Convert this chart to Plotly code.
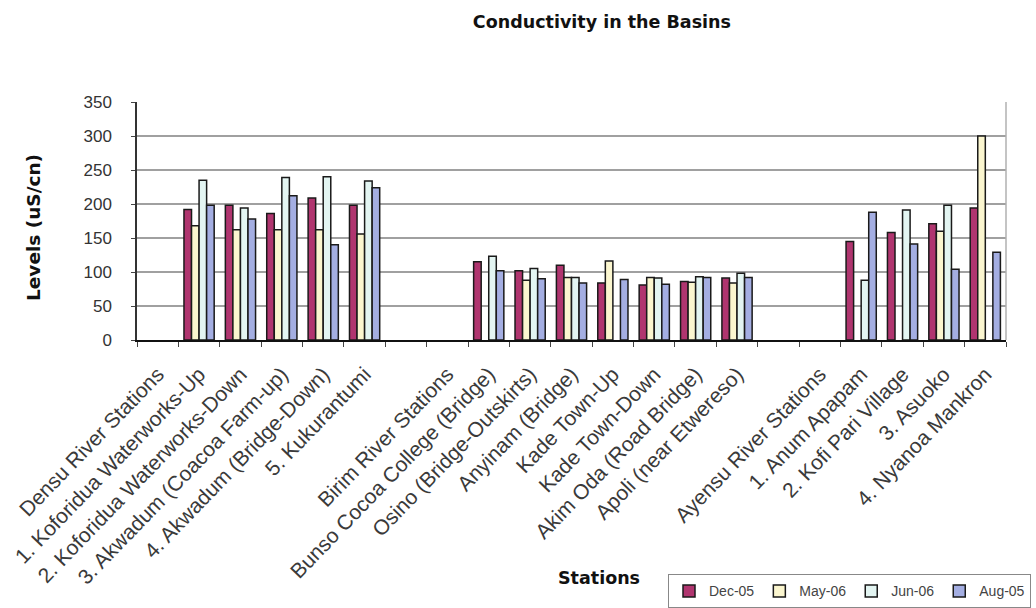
import plotly.graph_objects as go

stations = [
    "Densu River Stations",
    "1. Koforidua Waterworks-Up",
    "2. Koforidua Waterworks-Down",
    "3. Akwadum (Coacoa Farm-up)",
    "4. Akwadum (Bridge-Down)",
    "5. Kukurantumi",
    " ",
    "Birim River Stations",
    "Bunso Cocoa College (Bridge)",
    "Osino (Bridge-Outskirts)",
    "Anyinam (Bridge)",
    "Kade Town-Up",
    "Kade Town-Down",
    "Akim Oda (Road Bridge)",
    "Apoli (near Etwereso)",
    "  ",
    "Ayensu River Stations",
    "1. Anum Apapam",
    "2. Kofi Pari Village",
    "3. Asuoko",
    "4. Nyanoa Mankron",
]

dec_05 = [None, 192, 198, 186, 209, 198, None, None, 115, 102, 110, 84, 81, 86, 91, None, None, 145, 158, 171, 194]
may_06 = [None, 168, 162, 162, 162, 156, None, None, None, 88, 92, 116, 92, 85, 84, None, None, None, None, 160, 300]
jun_06 = [None, 235, 194, 239, 240, 234, None, None, 123, 105, 92, None, 91, 93, 98, None, None, 88, 191, 198, None]
aug_05 = [None, 198, 178, 212, 140, 224, None, None, 102, 90, 84, 89, 82, 92, 92, None, None, 188, 141, 104, 129]

series_names = ["Dec-05", "May-06", "Jun-06", "Aug-05"]
series_values = [dec_05, may_06, jun_06, aug_05]
colors = ["#B0356F", "#FBF6CF", "#E3F5F2", "#A4AEE2"]

fig = go.Figure()
for name, vals, col in zip(series_names, series_values, colors):
    fig.add_trace(go.Bar(
        x=stations, y=vals, name=name,
        marker=dict(color=col, line=dict(color="#1a1a1a", width=1.5)),
    ))

sans = "Liberation Sans, Arial, sans-serif"
bold = "DejaVu Sans, Verdana, sans-serif"

fig.update_layout(
    width=1036, height=608,
    paper_bgcolor="white", plot_bgcolor="white",
    margin=dict(l=137, r=30, t=102, b=268, autoexpand=False),
    barmode="group", bargap=0.27, bargroupgap=0.0,
    font=dict(family=sans, size=15, color="#333333"),
    title=dict(text="<b>Conductivity in the Basins</b>", x=0.581, xanchor="center",
               y=0.964, yanchor="middle", yref="container",
               font=dict(family=bold, size=17.5, color="#111111")),
    showlegend=True,
    legend=dict(orientation="h", x=(1031 - 137) / 869, xanchor="right", y=-0.985, yanchor="top",
                bordercolor="#888888", borderwidth=1, bgcolor="white",
                font=dict(family=sans, size=14, color="#444444"), itemwidth=30,
                tracegroupgap=0),
)

fig.update_xaxes(
    type="category", range=[-0.5, len(stations) - 0.5],
    tickangle=-46, tickson="boundaries",
    ticks="outside", ticklen=5, tickcolor="#444444", ticklabelstandoff=12,
    showline=True, linecolor="#111111", linewidth=1.5,
    showgrid=False, mirror=False,
    tickfont=dict(family=sans, size=21, color="#3a3a3a"),
)
fig.update_yaxes(
    range=[0, 350], dtick=50, ticks="outside", ticklen=4, tickcolor="#444444",
    ticklabelstandoff=16,
    showline=True, linecolor="#333333", linewidth=1.5,
    showgrid=True, gridcolor="#A0A0A0", gridwidth=1.8,
    zeroline=False, tickfont=dict(family=sans, size=17, color="#333333"),
)

# right border of plot area
fig.add_shape(type="line", xref="paper", yref="paper", x0=1, x1=1, y0=0, y1=1,
              line=dict(color="#B0B0B0", width=1.5))
# dark reference line at 300
fig.add_shape(type="line", xref="paper", yref="y", x0=0, x1=1, y0=300, y1=300,
              line=dict(color="#111111", width=1.5), layer="below")

fig.add_annotation(text="<b>Levels (uS/cn)</b>", xref="paper", yref="paper",
                   x=(33 - 137) / 869, y=(340 - 228) / 238, textangle=-90, showarrow=False,
                   font=dict(family=bold, size=18.5, color="#111111"),
                   xanchor="center", yanchor="middle")
fig.add_annotation(text="<b>Stations</b>", xref="paper", yref="paper",
                   x=(599 - 137) / 869, y=(340 - 578) / 238, showarrow=False,
                   font=dict(family=bold, size=17.5, color="#111111"),
                   xanchor="center", yanchor="middle")

fig.write_html("out.html", post_script="document.body.style.margin='0';",
               config={"displayModeBar": False})
